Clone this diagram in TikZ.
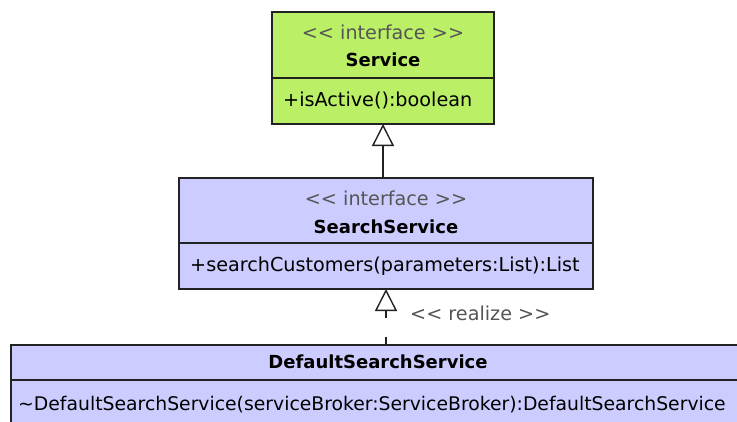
\documentclass[tikz,border=0pt]{standalone}
\usepackage{fontspec}
\setmainfont{DejaVu Sans}
\usetikzlibrary{arrows.meta}
\definecolor{ifgreen}{RGB}{187,240,102}
\definecolor{clsblue}{RGB}{204,204,255}
\definecolor{edgecol}{RGB}{34,34,34}
\definecolor{stereo}{RGB}{85,85,85}
\newcommand\stL{<\kern0pt<}
\newcommand\stR{>\kern0pt>}
\begin{document}
\begin{tikzpicture}[x=1pt,y=-1pt,
  comp/.style={draw=edgecol, line width=1.4pt, anchor=north west, inner sep=0pt, outer sep=0pt},
  stereotxt/.style={text=stereo, font=\fontsize{19.2}{22}\selectfont, inner sep=0pt},
  nametxt/.style={font=\fontsize{18}{21}\selectfont\bfseries, inner sep=0pt},
  optxt/.style={font=\fontsize{19.2}{22}\selectfont, inner sep=0pt, anchor=west},
  gen/.style={line width=1.4pt, draw=edgecol, -{Triangle[open, length=22pt, width=22pt, line width=1.4pt]}}]
\useasboundingbox (0,0) rectangle (737,421);
\fill[white] (0,0) rectangle (737,421);
\begin{scope}
\clip (0,0) rectangle (737,421);
% Service
\node[comp, fill=ifgreen, minimum width=222pt, minimum height=66pt] (svchead) at (272,12) {};
\node[comp, fill=ifgreen, minimum width=222pt, minimum height=46pt] (svcops) at (272,78) {};
\node[stereotxt] (svcst) at (383,32) {\stL{} interface \stR};
\node[nametxt] (svcname) at (383,60) {Service};
\node[optxt] (svcop) at (283,100) {+isActive():boolean};
% SearchService
\node[comp, fill=clsblue, minimum width=414pt, minimum height=65pt] (sshead) at (179,178) {};
\node[comp, fill=clsblue, minimum width=414pt, minimum height=46pt] (ssops) at (179,243) {};
\node[stereotxt] (ssst) at (386,198) {\stL{} interface \stR};
\node[nametxt] (ssname) at (386,227) {SearchService};
\node[optxt] (ssop) at (190,266) {+searchCustomers(parameters:List):List};
% DefaultSearchService
\node[comp, fill=clsblue, minimum width=734pt, minimum height=35pt] (dsshead) at (11,345) {};
\node[comp, fill=clsblue, minimum width=734pt, minimum height=60pt] (dssops) at (11,380) {};
\node[nametxt] (dssname) at (378,362) {DefaultSearchService};
\node[optxt, font=\fontsize{18.8}{22}\selectfont] (dssop) at (18,405) {\textasciitilde DefaultSearchService(serviceBroker:ServiceBroker):DefaultSearchService};
% connectors
\draw[gen] (svcops.south |- sshead.north) -- (svcops.south);
\draw[gen, dash pattern=on 8pt off 19pt] (ssops.south |- dsshead.north) -- (ssops.south);
\node[stereotxt, anchor=west] (realize) at (410,313) {\stL{} realize \stR};
\end{scope}
\end{tikzpicture}
\end{document}
